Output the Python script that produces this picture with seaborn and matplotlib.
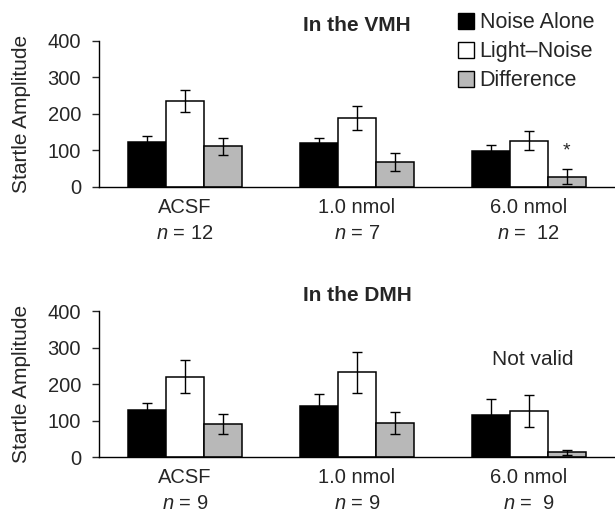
import matplotlib

matplotlib.use("Agg")
import matplotlib.pyplot as plt
import pandas as pd
import seaborn as sns

# Data (mean startle amplitude and error bar half-length)
doses = ["ACSF", "1.0 nmol", "6.0 nmol"]
measures = ["Noise Alone", "Light\u2013Noise", "Difference"]
colors = ["#000000", "#ffffff", "#b8b8b8"]

vmh_n = ["12", "7", " 12"]
vmh_noise = [124, 120, 99]
vmh_noise_err = [17, 15, 17]
vmh_light = [236, 188, 127]
vmh_light_err = [30, 33, 26]
vmh_diff = [111, 69, 28]
vmh_diff_err = [23, 24, 21]

dmh_n = ["9", "9", " 9"]
dmh_noise = [130, 140, 114]
dmh_noise_err = [19, 32, 44]
dmh_light = [220, 232, 126]
dmh_light_err = [45, 56, 44]
dmh_diff = [91, 94, 13]
dmh_diff_err = [27, 30, 7]


def make_frame(noise, light, diff):
    rows = []
    for values, measure in zip([noise, light, diff], measures):
        for dose, value in zip(doses, values):
            rows.append({"Dose": dose, "Measure": measure, "Amplitude": value})
    return pd.DataFrame(rows)


sns.set_theme(style="ticks")
plt.rcParams["font.family"] = ["Liberation Sans", "DejaVu Sans"]
plt.rcParams["mathtext.fontset"] = "custom"
plt.rcParams["mathtext.it"] = "Liberation Sans:italic"
plt.rcParams["mathtext.rm"] = "Liberation Sans"

fig = plt.figure(figsize=(6.15, 5.13), dpi=100)
ax_top = fig.add_axes([0.161, 0.6355, 0.839, 0.2846])
ax_bot = fig.add_axes([0.161, 0.109, 0.839, 0.2846])

panels = [
    (ax_top, "In the VMH", (vmh_noise, vmh_light, vmh_diff),
     (vmh_noise_err, vmh_light_err, vmh_diff_err), vmh_n),
    (ax_bot, "In the DMH", (dmh_noise, dmh_light, dmh_diff),
     (dmh_noise_err, dmh_light_err, dmh_diff_err), dmh_n),
]

for ax, title, values, errors, n_values in panels:
    df = make_frame(*values)
    sns.barplot(
        data=df,
        x="Dose",
        y="Amplitude",
        hue="Measure",
        order=doses,
        hue_order=measures,
        palette=colors,
        width=0.66,
        edgecolor="black",
        linewidth=1.1,
        errorbar=None,
        legend=False,
        ax=ax,
    )
    # error bars placed on the seaborn bars
    for container, errs in zip(ax.containers, errors):
        xs = [bar.get_x() + bar.get_width() / 2 for bar in container]
        hs = [bar.get_height() for bar in container]
        ax.errorbar(xs, hs, yerr=errs, fmt="none", ecolor="black",
                    elinewidth=1, capsize=3.5, capthick=1, zorder=5)

    ax.set_xlim(-0.5, 2.5)
    ax.set_ylim(0, 400)
    ax.set_yticks([0, 100, 200, 300, 400])
    ax.set_xticks(range(len(doses)))
    ax.set_xticklabels([f"{d}\n$n$ = {n}" for d, n in zip(doses, n_values)],
                       linespacing=1.45)
    ax.tick_params(axis="x", length=0, pad=8, labelsize=14.5)
    ax.tick_params(axis="y", length=5, width=1, pad=8, labelsize=14.5)
    ax.set_xlabel("")
    ax.set_ylabel("Startle Amplitude", fontsize=15)
    ax.yaxis.set_label_coords(-0.131, 0.5)
    ax.set_title(title, fontsize=15, fontweight="bold", pad=7)
    sns.despine(ax=ax)
    for side in ["left", "bottom"]:
        ax.spines[side].set_linewidth(1)
        ax.spines[side].set_color("black")

# significance marker and note
gray_bar = ax_top.containers[2][2]
ax_top.text(gray_bar.get_x() + gray_bar.get_width() / 2, 100, "*",
            ha="center", va="center", fontsize=14)
ax_bot.text(2.02, 268, "Not valid", ha="center", va="center", fontsize=15)

handles = [plt.Rectangle((0, 0), 1, 1, facecolor=c, edgecolor="black", linewidth=1)
           for c in colors]
fig.legend(handles, measures, loc="upper left", bbox_to_anchor=(0.745, 0.976),
           frameon=False, fontsize=15.5, handlelength=0.75, handleheight=0.75,
           handletextpad=0.25, labelspacing=0.37, borderaxespad=0, borderpad=0)

fig.savefig("out.png", dpi=100)
